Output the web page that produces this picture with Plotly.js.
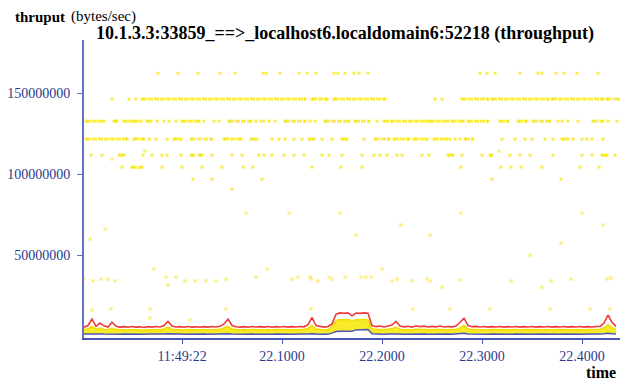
<!DOCTYPE html>
<html>
<head>
<meta charset="utf-8">
<script src="https://cdn.plot.ly/plotly-3.0.1.min.js"></script>
<style>html,body{margin:0;padding:0;background:#fff;}#chart{width:621px;height:381px;}</style>
</head>
<body>
<div id="chart"></div>
<script>
// ---- tick labels ----
const X_TICK_VALUES = [22.0, 22.1, 22.2, 22.3, 22.4];
const X_TICK_LABELS = ['11:49:22', '22.1000', '22.2000', '22.3000', '22.4000'];
const Y_TICK_VALUES = [50000000, 100000000, 150000000];
const Y_TICK_LABELS = ['50000000', '100000000', '150000000'];

// ---- throughput samples: rows of yellow dots (time in s, null separates runs) ----
const ROW_LEVELS = [162.3e6, 146.3e6, 132.7e6, 121.6e6, 111.7e6, 104.3e6, 96.9e6, 90.7e6];
const ROW_A = [21.976,null,21.996,null,22.016,null,22.038,null,22.053,null,22.081,null,22.084,null,22.098,null,22.117,null,22.125,null,22.134,null,22.152,null,22.156,null,22.163,null,22.172,null,22.177,null,22.186,null,22.298,null,22.305,null,22.313,null,22.338,null,22.356,null,22.360,null,22.374,null,22.382,null,22.395,null,22.416];
const ROW_B = [21.930,null,21.947,null,21.954,null,21.960,22.123,null,22.130,22.145,null,22.152,22.203,null,22.253,null,22.260,null,22.280,22.306,null,22.310,22.366,null,22.370,22.421,null,22.425,22.437];
const ROW_C = [21.904,21.922,null,21.932,21.935,null,21.942,21.949,null,21.952,21.959,null,21.965,21.969,null,21.975,null,21.982,null,21.987,null,21.994,null,22.000,22.017,null,22.022,null,22.032,null,22.037,null,22.047,22.069,null,22.074,null,22.079,null,22.082,null,22.087,null,22.093,null,22.103,22.123,null,22.128,null,22.133,null,22.143,22.167,null,22.173,22.187,null,22.195,null,22.202,22.245,null,22.248,22.266,null,22.270,22.281,null,22.286,22.306,null,22.318,22.326,null,22.336,22.345,null,22.351,22.368,null,22.376,null,22.380,null,22.386,null,22.396,null,22.411,22.421,null,22.426,null,22.435];
const ROW_D = [21.904,21.945,null,21.952,21.962,null,21.967,null,21.974,null,21.985,null,21.992,21.999,null,22.009,22.030,null,22.042,22.059,null,22.069,22.075,null,22.090,null,22.097,null,22.103,null,22.112,null,22.120,null,22.127,22.132,null,22.140,null,22.150,null,22.160,22.165,null,22.182,null,22.193,22.207,null,22.212,22.227,null,22.232,22.245,null,22.252,22.265,null,22.268,null,22.273,null,22.278,null,22.283,22.291,null,22.320,null,22.333,null,22.343,null,22.350,null,22.363,null,22.371,null,22.380,22.386,null,22.391,null,22.400,null,22.405,null,22.410,null,22.421];
const ROW_E = [21.909,null,21.920,null,21.937,21.942,null,21.961,null,21.970,null,21.980,null,21.985,null,21.999,null,22.009,22.012,null,22.017,22.020,null,22.030,null,22.050,null,22.060,null,22.077,null,22.082,null,22.090,null,22.102,null,22.112,null,22.122,null,22.140,null,22.147,null,22.160,null,22.180,null,22.192,null,22.198,null,22.205,null,22.215,null,22.220,null,22.240,null,22.247,null,22.266,22.271,null,22.280,null,22.300,null,22.308,22.310,null,22.328,null,22.338,null,22.348,null,22.371,null,22.400,null,22.410,null,22.420,22.425,null,22.433];
const ROW_F = [21.940,null,21.950,21.960,null,21.980,null,22.000,null,22.020,null,22.040,null,22.061,null,22.071,null,22.130,null,22.159,null,22.180,null,22.279,null,22.319,null,22.329,null,22.339,null,22.360,null,22.398,null,22.417];
const ROW_G = [22.011,null,22.030,null,22.080,null,22.310,null,22.379];
const ROW_H = [22.050];

// ---- scattered pale samples ----
const SCAT_T = [22.064,21.923,21.908,21.972,21.902,21.911,21.919,21.926,21.933,21.984,21.986,21.994,22.003,22.013,22.024,22.034,22.044,22.074,21.910,21.929,21.968,22.044,22.008,21.968,22.107,22.158,22.219,22.174,22.248,22.085,22.200,22.110,22.116,22.128,22.129,22.136,22.147,22.150,22.163,22.179,22.184,22.189,22.210,22.215,22.230,22.245,22.248,22.129,22.231,22.279,22.400,22.421,22.379,22.348,22.260,22.278,22.329,22.360,22.369,22.389,22.425,22.429,22.268,22.308,22.368,22.408,22.428,21.930,21.963,22.317];
const SCAT_V = [75.9,66.0,59.9,41.4,35.2,34.0,35.2,35.2,34.0,36.4,31.5,36.4,34.0,34.0,34.0,34.0,35.2,36.4,16.0,16.7,16.7,16.7,9.9,11.1,75.9,75.9,68.5,62.3,62.3,41.4,41.4,35.2,36.4,36.4,35.2,34.0,36.4,35.2,36.4,36.4,36.4,36.4,34.0,35.2,34.0,35.2,34.0,16.7,16.7,75.9,75.9,68.5,57.4,50.0,30.2,34.6,34.0,30.2,34.0,35.2,35.2,35.8,16.7,16.7,16.7,16.7,16.7,109.3,114.2,114.2];

// ---- averaged series (millions of bytes/sec), sampled every 4 ms from 21.902 s ----
const AVG_T0 = 21.902;
const AVG_DT = 0.004;
const RED_AVG = [5.5,6.5,10.5,6.0,8.0,6.3,5.6,8.5,6.0,5.5,
 5.8,5.4,5.9,5.5,5.7,5.3,5.8,5.5,5.9,5.6,
 6.5,9.0,6.2,5.6,5.8,5.4,5.9,5.5,5.7,5.4,
 5.8,5.5,5.9,5.6,6.0,7.5,10.5,6.5,5.7,5.5,
 5.8,5.4,5.9,5.6,5.8,5.5,5.9,5.4,5.8,5.6,
 5.9,5.5,5.8,5.6,5.9,5.7,7.0,11.5,6.5,5.8,
 5.5,5.9,7.5,13.5,14.3,14.0,14.3,12.5,14.2,14.0,
 14.3,14.1,6.5,5.8,6.2,5.6,6.0,6.8,9.0,6.2,
 5.7,6.0,5.5,6.3,5.8,6.1,5.6,6.0,5.7,6.2,
 5.6,5.9,5.7,6.2,8.5,11.0,6.5,5.8,6.0,5.6,
 5.9,5.5,5.8,5.6,5.9,5.5,5.8,5.6,5.9,5.5,
 5.8,5.6,5.9,5.5,5.8,5.6,5.9,5.5,5.8,5.6,
 5.9,5.5,5.8,5.6,5.9,5.5,5.8,5.6,5.9,6.0,
 8.0,13.0,8.5,6.0];
const YELLOW_AVG = [4.0,4.5,6.0,4.2,5.0,4.1,3.9,5.0,4.0,3.8,
 4.0,3.7,4.1,3.8,3.9,3.6,4.0,3.8,4.1,3.9,
 4.4,5.5,4.2,3.9,4.0,3.7,4.1,3.8,3.9,3.7,
 4.0,3.8,4.1,3.9,4.2,5.0,6.0,4.3,3.9,3.8,
 4.0,3.7,4.1,3.9,4.0,3.8,4.1,3.7,4.0,3.9,
 4.1,3.8,4.0,3.9,4.1,4.0,4.8,6.5,4.3,4.0,
 3.8,4.1,6.0,9.5,10.2,10.0,10.3,9.0,10.2,10.0,
 10.3,10.0,4.5,4.0,4.2,3.9,4.1,4.6,5.5,4.2,
 3.9,4.1,3.8,4.3,4.0,4.2,3.9,4.1,3.9,4.2,
 3.9,4.1,3.9,4.2,5.0,6.5,4.4,4.0,4.1,3.9,
 4.1,3.8,4.0,3.9,4.1,3.8,4.0,3.9,4.1,3.8,
 4.0,3.9,4.1,3.8,4.0,3.9,4.1,3.8,4.0,3.9,
 4.1,3.8,4.0,3.9,4.1,3.8,4.0,3.9,4.1,4.2,
 5.0,7.0,5.2,4.0];
const BLUE_AVG = [1.2,1.3,1.4,1.2,1.3,1.2,1.1,1.3,1.2,1.1,
 1.2,1.1,1.2,1.1,1.2,1.1,1.2,1.1,1.2,1.1,
 1.2,1.4,1.2,1.1,1.2,1.1,1.2,1.1,1.2,1.1,
 1.2,1.1,1.2,1.1,1.2,1.3,1.4,1.2,1.1,1.1,
 1.2,1.1,1.2,1.1,1.2,1.1,1.2,1.1,1.2,1.1,
 1.2,1.1,1.2,1.1,1.2,1.1,1.3,1.5,1.2,1.1,
 1.1,1.2,1.8,2.8,3.0,3.0,3.0,3.0,3.8,4.0,
 4.0,4.0,1.4,1.2,1.2,1.1,1.2,1.3,1.5,1.2,
 1.1,1.2,1.1,1.2,1.1,1.2,1.1,1.2,1.1,1.2,
 1.1,1.2,1.1,1.2,1.4,1.8,1.3,1.2,1.2,1.1,
 1.2,1.1,1.2,1.1,1.2,1.1,1.2,1.1,1.2,1.1,
 1.2,1.1,1.2,1.1,1.2,1.1,1.2,1.1,1.2,1.1,
 1.2,1.1,1.2,1.1,1.2,1.1,1.2,1.1,1.2,1.2,
 1.4,1.8,1.4,1.2];

// ---- text ----
const CHART_TITLE = '10.1.3.3:33859_==>_localhost6.localdomain6:52218 (throughput)';
const X_TITLE = 'time';

// ---- build traces ----
const MEGA = 1e6;
const FONT = 'Liberation Serif';
const rows = [ROW_A, ROW_B, ROW_C, ROW_D, ROW_E, ROW_F, ROW_G, ROW_H];
const traces = [];
const YEL = 'rgba(247,228,0,0.7)';

traces.push({
  type: 'scatter', mode: 'markers', x: SCAT_T, y: SCAT_V.map(v => v * MEGA),
  marker: {symbol: 'square', size: 3.5, color: 'rgba(250,236,110,0.75)'},
  hoverinfo: 'skip', showlegend: false
});
rows.forEach((r, k) => {
  traces.push({
    type: 'scatter', mode: 'lines+markers', x: r, y: r.map(t => t === null ? null : ROW_LEVELS[k]),
    connectgaps: false,
    line: {color: YEL, width: 3, dash: '5px,1px'},
    marker: {symbol: 'square', size: 3, color: YEL},
    hoverinfo: 'skip', showlegend: false
  });
});
traces.push({
  type: 'scatter', mode: 'lines', x0: AVG_T0, dx: AVG_DT, y: BLUE_AVG.map(v => v * MEGA),
  line: {color: 'rgba(0,0,0,0)', width: 0}, hoverinfo: 'skip', showlegend: false
});
traces.push({
  type: 'scatter', mode: 'lines', x0: AVG_T0, dx: AVG_DT, y: YELLOW_AVG.map(v => v * MEGA),
  fill: 'tonexty', fillcolor: 'rgba(246,232,20,0.9)',
  line: {color: 'rgba(240,220,0,1)', width: 1.5}, hoverinfo: 'skip', showlegend: false
});
traces.push({
  type: 'scatter', mode: 'lines', x0: AVG_T0, dx: AVG_DT, y: RED_AVG.map(v => v * MEGA),
  line: {color: '#ee3a3a', width: 1.6}, hoverinfo: 'skip', showlegend: false
});
traces.push({
  type: 'scatter', mode: 'lines', x0: AVG_T0, dx: AVG_DT, y: BLUE_AVG.map(v => v * MEGA),
  line: {color: '#4d57b3', width: 1.5}, hoverinfo: 'skip', showlegend: false
});

const W = 621, H = 381, ML = 84, MR = 1, MT = 40, MB = 43;
const PW = W - ML - MR, PH = H - MT - MB;
const px = p => (p - ML) / PW;
const py = p => (H - MB - p) / PH;

const layout = {
  width: W, height: H,
  margin: {l: ML, r: MR, t: MT, b: MB},
  showlegend: false,
  xaxis: {
    range: [21.902, 22.438], tickmode: 'array', tickvals: X_TICK_VALUES, ticktext: X_TICK_LABELS,
    showgrid: false, zeroline: false, showline: true, linecolor: '#4a55b8', linewidth: 2,
    ticks: 'outside', ticklen: 4, tickcolor: '#4a55b8', tickwidth: 1,
    tickfont: {family: FONT, size: 14, color: '#2c3a8c'}
  },
  yaxis: {
    range: [-1.2e6, 182.8e6], tickmode: 'array', tickvals: Y_TICK_VALUES, ticktext: Y_TICK_LABELS,
    showgrid: false, zeroline: false, showline: true, linecolor: '#6670c8', linewidth: 2,
    ticks: 'outside', ticklen: 5, tickcolor: '#6670c8', tickwidth: 1, ticklabelstandoff: 4,
    tickfont: {family: FONT, size: 14, color: '#2c3a8c'}
  },
  annotations: [
    {xref: 'paper', yref: 'paper', x: px(345), y: py(34), xanchor: 'center', yanchor: 'middle',
     text: '<b>' + CHART_TITLE + '</b>', showarrow: false,
     font: {family: FONT, size: 18, color: '#000000'}},
    {xref: 'paper', yref: 'paper', x: px(13), y: py(17), xanchor: 'left', yanchor: 'middle',
     text: '<b>thruput</b>', showarrow: false, font: {family: FONT, size: 15, color: '#000000'}},
    {xref: 'paper', yref: 'paper', x: px(69), y: py(17), xanchor: 'left', yanchor: 'middle',
     text: '(bytes/sec)', showarrow: false, font: {family: FONT, size: 15, color: '#000000'}},
    {xref: 'paper', yref: 'paper', x: px(618), y: py(372), xanchor: 'right', yanchor: 'middle',
     text: '<b>' + X_TITLE + '</b>', showarrow: false, font: {family: FONT, size: 16, color: '#000000'}}
  ]
};

Plotly.newPlot('chart', traces, layout, {staticPlot: true});
</script>
</body>
</html>
